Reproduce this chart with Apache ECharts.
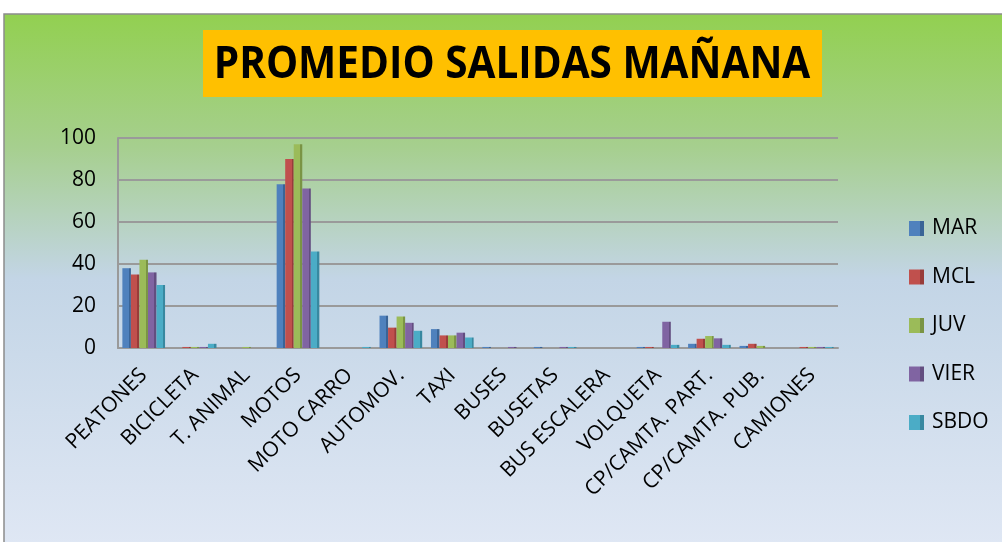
<!DOCTYPE html>
<html>
<head>
<meta charset="utf-8">
<script src="https://cdn.jsdelivr.net/npm/echarts@6/dist/echarts.min.js"></script>
<style>
  html, body { margin: 0; padding: 0; background: #fff; }
  #chart { width: 1002px; height: 542px; }
</style>
</head>
<body>
<div id="chart"></div>
<script>
// categorías (tipo de vehículo)
const categories = ['PEATONES', 'BICICLETA', 'T. ANIMAL', 'MOTOS', 'MOTO CARRO', 'AUTOMOV.', 'TAXI',
    'BUSES', 'BUSETAS', 'BUS ESCALERA', 'VOLQUETA', 'CP/CAMTA. PART.', 'CP/CAMTA. PUB.', 'CAMIONES'];

// promedios por día
const mar  = [38, 0,   0,   78, 0,   15.4, 9,   0.5, 0.5, 0, 0.5,  2,   1,   0];
const mcl  = [35, 0.5, 0,   90, 0,   9.7,  6,   0,   0,   0, 0.5,  4.4, 2,   0.5];
const juv  = [42, 0.5, 0.5, 97, 0,   15,   6,   0,   0,   0, 0,    5.7, 1,   0.5];
const vier = [36, 0.5, 0,   76, 0,   12,   7.3, 0.5, 0.5, 0, 12.5, 4.6, 0,   0.5];
const sbdo = [30, 2,   0,   46, 0.5, 8.2,  5,   0,   0.5, 0, 1.5,  1.5, 0,   0.5];

const seriesNames = ['MAR', 'MCL', 'JUV', 'VIER', 'SBDO'];
const seriesData = [mar, mcl, juv, vier, sbdo];
const colors = ['#4f81bd', '#c0504d', '#9bbb59', '#8064a2', '#4bacc6'];
const darker = ['#3a6496', '#983c3a', '#7a9444', '#634e80', '#3888a0'];

const yTicks = [0, 20, 40, 60, 80, 100];

const chart = echarts.init(document.getElementById('chart'));

chart.setOption({
    backgroundColor: '#ffffff',
    color: colors,
    animation: false,
    graphic: [
        // fondo del área del gráfico
        {
            type: 'rect', z: -10, silent: true,
            shape: { x: 4, y: 14, width: 1000, height: 530 },
            style: {
                fill: new echarts.graphic.LinearGradient(0, 0, 0, 1, [
                    { offset: 0, color: '#92d050' },
                    { offset: 0.25, color: '#a6cf8e' },
                    { offset: 0.5, color: '#c3d5e6' },
                    { offset: 1, color: '#dfe7f4' }
                ]),
                stroke: '#8c8c8c', lineWidth: 1.5
            }
        },
        // cuadro del título
        {
            type: 'rect', z: 5, silent: true,
            shape: { x: 203, y: 30, width: 619, height: 67 },
            style: { fill: '#ffc000' }
        },
        {
            type: 'text', z: 6, silent: true,
            x: 512, y: 65,
            scaleX: 0.9,
            style: {
                text: 'PROMEDIO SALIDAS MAÑANA',
                x: 0, y: 0,
                align: 'center', verticalAlign: 'middle',
                font: 'bold 45px "Open Sans"',
                fill: '#000'
            }
        }
    ],
    legend: {
        orient: 'vertical',
        left: 904,
        top: 213,
        itemWidth: 15,
        itemHeight: 15,
        itemGap: 27.5,
        icon: 'rect',
        textStyle: { fontFamily: 'Open Sans', fontSize: 21, color: '#000', padding: [0, 0, 0, 3] },
        data: seriesNames
    },
    grid: { left: 118, right: 164, top: 138, bottom: 194 },
    xAxis: {
        type: 'category',
        data: categories,
        axisLine: { show: true, lineStyle: { color: '#9a9a9a', width: 2 } },
        axisTick: { show: false },
        axisLabel: {
            rotate: 45,
            interval: 0,
            margin: 24,
            color: '#000',
            fontFamily: 'Open Sans',
            fontSize: 21
        }
    },
    yAxis: {
        type: 'value',
        min: 0,
        max: 100,
        interval: 20,
        axisLine: { show: true, lineStyle: { color: '#9a9a9a', width: 2 } },
        axisTick: { show: false },
        axisLabel: {
            margin: 22,
            color: '#000',
            fontFamily: 'Open Sans',
            fontSize: 21,
            formatter: v => yTicks.includes(v) ? String(v) : ''
        },
        splitLine: { show: true, lineStyle: { color: '#9a9a9a', width: 2 } }
    },
    series: seriesData.map((d, i) => ({
        name: seriesNames[i],
        type: 'bar',
        data: d,
        barGap: '0%',
        barCategoryGap: '17%',
        itemStyle: {
            color: new echarts.graphic.LinearGradient(0, 0, 1, 0, [
                { offset: 0, color: colors[i] },
                { offset: 0.75, color: colors[i] },
                { offset: 0.76, color: darker[i] },
                { offset: 1, color: darker[i] }
            ])
        }
    }))
});
</script>
</body>
</html>
